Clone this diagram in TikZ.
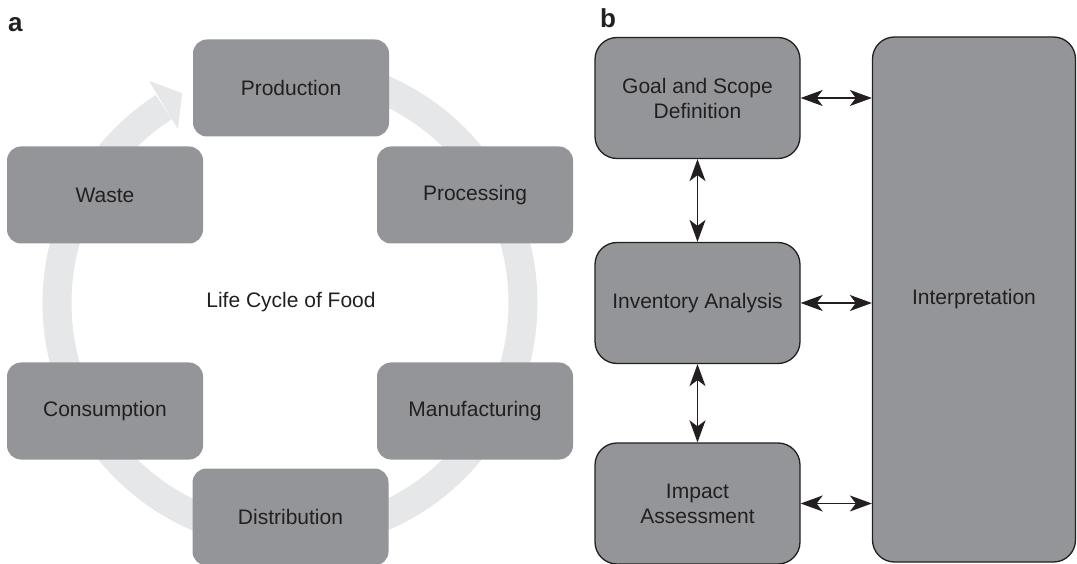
\documentclass[tikz,border=0pt]{standalone}
\usepackage{fontspec}
\setmainfont{Liberation Sans}
\usetikzlibrary{arrows.meta,calc}
\definecolor{boxgray}{HTML}{939598}
\definecolor{ringgray}{HTML}{E6E7E8}
\definecolor{ink}{HTML}{231F20}
\begin{document}
\begin{tikzpicture}[x=1pt,y=1pt,
  lcbox/.style={rectangle, rounded corners=14pt, fill=boxgray, minimum width=196pt, minimum height=97pt, inner sep=0pt, text=ink, font=\fontsize{21}{25}\selectfont, align=center},
  lcabox/.style={rectangle, rounded corners=22pt, fill=boxgray, draw=ink, line width=1.3pt, minimum width=205pt, minimum height=121pt, inner sep=0pt, text=ink, font=\fontsize{21}{25}\selectfont, align=center},
  dbl/.style={{Stealth[length=22pt,width=16pt,inset=6pt]}-{Stealth[length=22pt,width=16pt,inset=6pt]}, line width=1.4pt, draw=ink},
  panel/.style={font=\fontsize{26}{26}\selectfont\bfseries, text=ink, inner sep=0pt, anchor=base west}
]
\useasboundingbox (0,0) rectangle (1077,563);

% ---- panel a : ring ----
\coordinate (rc) at (290,260);
\draw[ringgray, line width=29pt] ($(rc)+(90:233)$) arc[start angle=90, end angle=-237.2, radius=233];
\fill[ringgray] ($(rc)+(122.4:263)$) -- ($(rc)+(117.2:236)$) -- ($(rc)+(122.8:207)$) -- cycle;

\node[panel] (la) at (8,531) {a};
\node[lcbox] (prod) at (291,475) {Production};
\node[lcbox] (proc) at (475,368) {Processing};
\node[lcbox] (manu) at (475,152) {Manufacturing};
\node[lcbox] (dist) at (290.5,46) {Distribution};
\node[lcbox] (cons) at (105,152) {Consumption};
\node[lcbox] (waste) at (105,368) {Waste};
\node[text=ink, font=\fontsize{21}{25}\selectfont] (life) at (291,261) {Life Cycle of Food};

% ---- panel b ----
\node[panel] (lb) at (600,535) {b};
\node[lcabox] (goal) at (697.5,465) {Goal and Scope\\Definition};
\node[lcabox] (inv) at (697.5,260) {Inventory Analysis};
\node[lcabox] (imp) at (697.5,59.5) {Impact\\Assessment};
\node[lcabox, minimum width=203pt, minimum height=525pt] (interp) at (974,263.5) {Interpretation};

\draw[dbl] (goal.east) -- (goal.east -| interp.west);
\draw[dbl] (inv.east) -- (inv.east -| interp.west);
\draw[dbl] (imp.east) -- (imp.east -| interp.west);
\draw[dbl] (goal.south) -- (inv.north);
\draw[dbl] (inv.south) -- (imp.north);
\end{tikzpicture}
\end{document}
